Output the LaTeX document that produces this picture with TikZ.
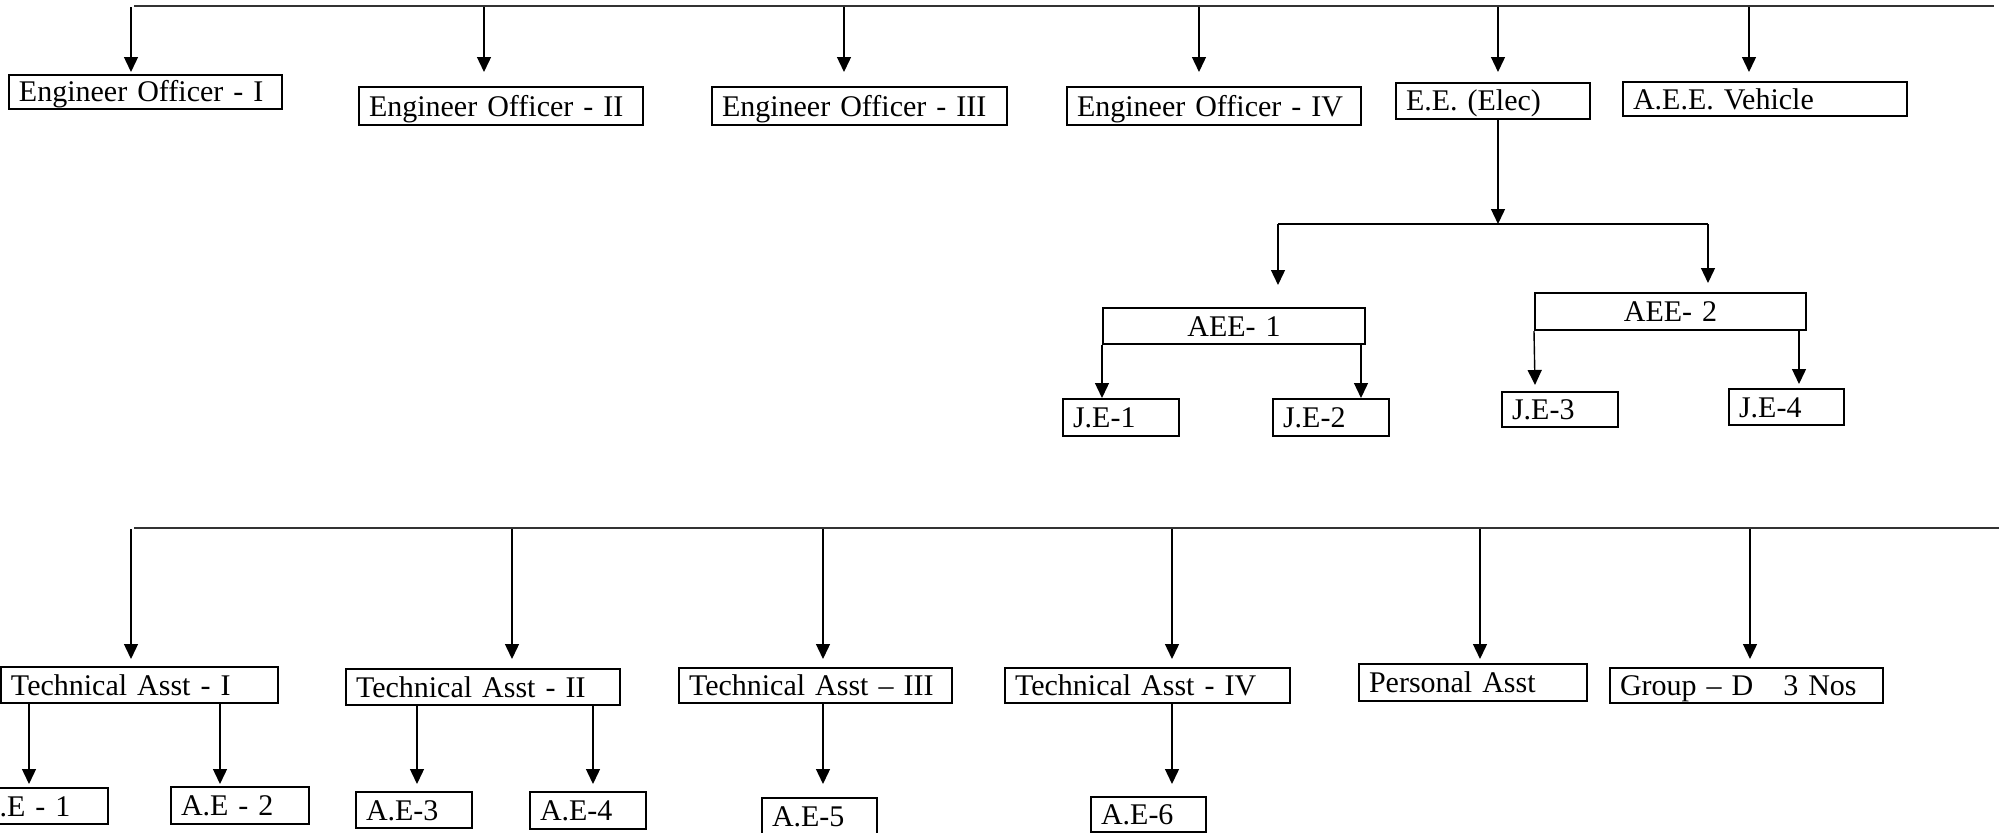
\documentclass[tikz,border=0pt]{standalone}
\usepackage{fontspec}
\setmainfont{Liberation Serif}
\usetikzlibrary{arrows.meta}

\begin{document}
\begin{tikzpicture}[x=1bp,y=-1bp]
      \useasboundingbox(0,0) rectangle (2007,833);
      \tikzset{V/.style = {shape=rectangle, draw, line width=2bp, inner xsep=10bp, inner ysep=0pt, text height=24bp, text depth=4bp, align=left, font=\fontsize{30bp}{34bp}\selectfont}}
      \tikzset{E/.style = {draw, line width=1.4bp, -{Triangle[width=14bp,length=15bp]}}}
      \tikzset{L/.style = {draw, line width=2.8bp, black!80}}
      \node[V,text width=253bp,minimum height=34bp](eo1) at (145.5,91.5) {Engineer Officer - I};
      \node[V,text width=264bp,minimum height=38bp](eo2) at (501,106) {Engineer Officer - II};
      \node[V,text width=275bp,minimum height=38bp](eo3) at (859.5,106) {Engineer Officer - III};
      \node[V,text width=274bp,minimum height=38bp](eo4) at (1214,106) {Engineer Officer - IV};
      \node[V,text width=174bp,minimum height=36bp](ee) at (1493,100.5) {E.E. (Elec)};
      \node[V,text width=264bp,minimum height=34bp](aeev) at (1765,99) {A.E.E. Vehicle};
      \node[V,align=center,text width=242bp,minimum height=36bp](aee1) at (1234,326) {AEE- 1};
      \node[V,align=center,text width=251bp,minimum height=37bp](aee2) at (1670.5,311.5) {AEE- 2};
      \node[V,text width=96bp,minimum height=37bp](je1) at (1121,417.5) {J.E-1};
      \node[V,text width=96bp,minimum height=37bp](je2) at (1331,417.5) {J.E-2};
      \node[V,text width=96bp,minimum height=35bp](je3) at (1560,409.5) {J.E-3};
      \node[V,text width=95bp,minimum height=36bp](je4) at (1786.5,407) {J.E-4};
      \node[V,text width=257bp,minimum height=36bp](ta1) at (139.5,685) {Technical Asst - I};
      \node[V,text width=254bp,minimum height=36bp](ta2) at (483,687) {Technical Asst - II};
      \node[V,text width=253bp,minimum height=35bp](ta3) at (815.5,685.5) {Technical Asst – III};
      \node[V,text width=265bp,minimum height=35bp](ta4) at (1147.5,685.5) {Technical Asst - IV};
      \node[V,text width=208bp,minimum height=37bp](pa) at (1473,682.5) {Personal Asst};
      \node[V,text width=253bp,minimum height=35bp](gd) at (1746.5,685.5) {Group – D\hspace{30bp}3 Nos};
      \node[V,text width=120bp,minimum height=36bp](ae1) at (38,806) {A.E - 1};
      \node[V,text width=118bp,minimum height=37bp](ae2) at (240,805.5) {A.E - 2};
      \node[V,text width=96bp,minimum height=36bp](ae3) at (414,810) {A.E-3};
      \node[V,text width=96bp,minimum height=37bp](ae4) at (588,810.5) {A.E-4};
      \node[V,text width=95bp,minimum height=36bp](ae5) at (819.5,816) {A.E-5};
      \node[V,text width=95bp,minimum height=35bp](ae6) at (1148.5,814.5) {A.E-6};
      \coordinate (tl) at (134,6);
      \coordinate (tr) at (1994,6);
      \coordinate (s1) at (131,7);
      \coordinate (s2) at (484,7);
      \coordinate (s3) at (844,7);
      \coordinate (s4) at (1199,7);
      \coordinate (s5) at (1498,7);
      \coordinate (s6) at (1749,7);
      \coordinate (m0) at (1498,224);
      \coordinate (m1) at (1278,224);
      \coordinate (m2) at (1708,224);
      \coordinate (n1) at (1278,285);
      \coordinate (n2) at (1708,283);
      \coordinate (k3) at (1535,385);
      \coordinate (k4) at (1799,384);
      \coordinate (bl) at (134,528);
      \coordinate (br) at (1999,528);
      \coordinate (u1) at (131,529);
      \coordinate (u2) at (512,529);
      \coordinate (u3) at (823,529);
      \coordinate (u4) at (1172,529);
      \coordinate (u5) at (1480,529);
      \coordinate (u6) at (1750,529);
      \coordinate (w1) at (29,784);
      \coordinate (w2) at (220,784);
      \coordinate (w3) at (417,784);
      \coordinate (w4) at (593,784);
      \coordinate (w5) at (823,784);
      \coordinate (w6) at (1172,784);
      \draw[L](tl) -- (tr);
      \draw[E](s1) -- (s1 |- 0,72);
      \draw[E](s2) -- (s2 |- 0,72);
      \draw[E](s3) -- (s3 |- 0,72);
      \draw[E](s4) -- (s4 |- 0,72);
      \draw[E](s5) -- (s5 |- 0,72);
      \draw[E](s6) -- (s6 |- 0,72);
      \draw[E](ee.south -| m0) -- (m0);
      \draw[line width=2.2bp](m1) -- (m2);
      \draw[E](m1) -- (n1);
      \draw[E](m2) -- (n2);
      \draw[E](aee1.south west) -- (aee1.south west |- je1.north);
      \draw[E]([xshift=-5bp]aee1.south east) -- ([xshift=-5bp]aee1.south east |- je2.north);
      \draw[E](aee2.south west) -- (k3);
      \draw[E](aee2.south east -| k4) -- (k4);
      \draw[L](bl) -- (br);
      \draw[E](u1) -- (u1 |- 0,659);
      \draw[E](u2) -- (u2 |- 0,659);
      \draw[E](u3) -- (u3 |- 0,659);
      \draw[E](u4) -- (u4 |- 0,659);
      \draw[E](u5) -- (u5 |- 0,659);
      \draw[E](u6) -- (u6 |- 0,659);
      \draw[E](ta1.south -| w1) -- (w1);
      \draw[E](ta1.south -| w2) -- (w2);
      \draw[E](ta2.south -| w3) -- (w3);
      \draw[E](ta2.south -| w4) -- (w4);
      \draw[E](ta3.south -| w5) -- (w5);
      \draw[E](ta4.south -| w6) -- (w6);
    \end{tikzpicture}
\end{document}
